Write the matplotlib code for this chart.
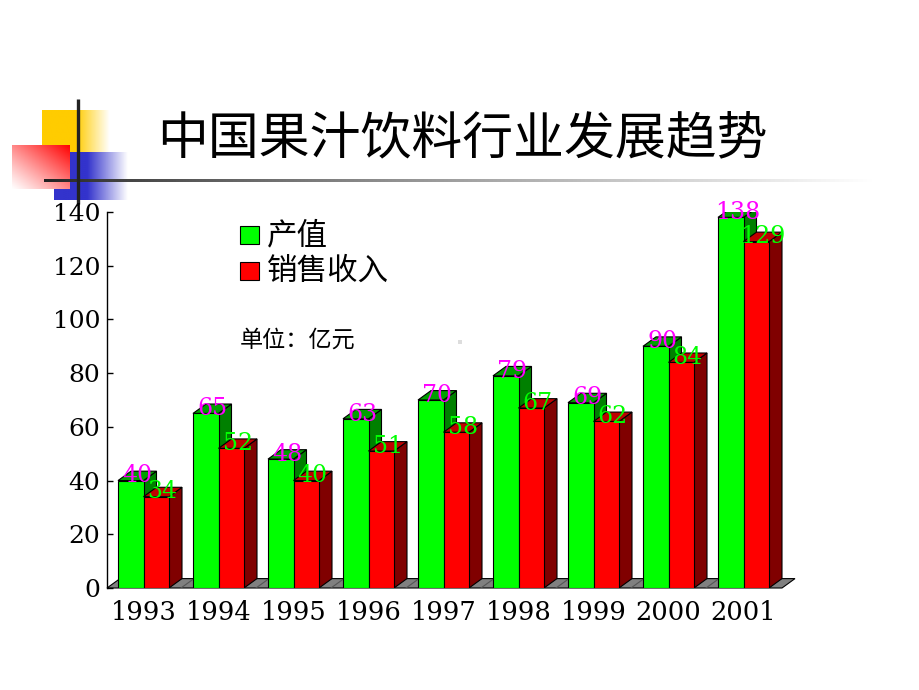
import numpy as np
import matplotlib.pyplot as plt
from matplotlib.patches import Polygon, Rectangle

# chart data
years = ["1993", "1994", "1995", "1996", "1997", "1998", "1999", "2000", "2001"]
output_value = [40, 65, 48, 63, 70, 79, 69, 90, 138]    # 产值
sales_income = [34, 52, 40, 51, 58, 67, 62, 84, 129]    # 销售收入
series_names = ["产值", "销售收入"]
y_ticks = [0, 20, 40, 60, 80, 100, 120, 140]
title_text = "中国果汁饮料行业发展趋势"
unit_note = "单位：亿元"

CJK = ["Noto Sans CJK SC", "DejaVu Sans"]
plt.rcParams["font.family"] = ["DejaVu Serif"]

W, H = 920, 690
fig = plt.figure(figsize=(W / 100, H / 100), dpi=100)

# --------------------- decoration (pixel coords) ---------------------
deco = fig.add_axes([0, 0, 1, 1], zorder=0)
deco.set_xlim(0, W)
deco.set_ylim(H, 0)
deco.axis("off")


def gradient_box(x0, x1, y0, y1, rgb, weight):
    u = np.linspace(0, 1, 120)[None, :]
    v = np.linspace(0, 1, 120)[:, None]
    w = np.clip(weight(u, v), 0, 1)[..., None]
    img = np.ones((120, 120, 3)) * (1 - w) + np.array(rgb)[None, None, :] * w
    deco.imshow(img, extent=(x0, x1, y1, y0), aspect="auto", interpolation="bilinear")


gradient_box(42, 110, 110, 153, (1.0, 0.8, 0.0),
             lambda u, v: np.where(u < 0.5, 1.0, 1 - (u - 0.5) / 0.5) + 0 * v)
gradient_box(54, 128, 152, 200, (0.2, 0.2, 0.8),
             lambda u, v: np.where(u < 0.45, 1.0, 1 - (u - 0.45) / 0.55) + 0 * v)
gradient_box(12, 70, 145, 189, (1.0, 0.0, 0.0),
             lambda u, v: ((u + (1 - v)) / 2) ** 1.1)

# fading rule under the title
u = np.linspace(0, 1, 400)[None, :]
g = (0.13 + 0.87 * u ** 0.8)
rule = np.repeat(g[..., None], 3, axis=2)
deco.imshow(rule, extent=(44, 873, 182.5, 179.5), aspect="auto", interpolation="bilinear")
deco.plot([78, 78], [99, 204], color="#222222", lw=2.4, solid_capstyle="butt")
deco.add_patch(Rectangle((458, 340), 4, 4, fc="#dddddd", ec="none"))

deco.set_xlim(0, W)
deco.set_ylim(H, 0)

fig.text(462 / W, 1 - 140 / H, title_text, family=CJK, fontsize=36.6,
         ha="center", va="center", color="black")

# --------------------- chart ---------------------
ax_l, ax_r, ax_b, ax_t = 107, 800, 588, 212
ax = fig.add_axes([ax_l / W, 1 - ax_b / H, (ax_r - ax_l) / W, (ax_b - ax_t) / H], zorder=1)
ax.patch.set_alpha(0)

px_per_cat = 75.0
x0_lim = (ax_l - 143.5) / px_per_cat
ax.set_xlim(x0_lim, x0_lim + (ax_r - ax_l) / px_per_cat)
ax.set_ylim(0, 140)
px_per_val = (ax_b - ax_t) / 140.0

dx = 13 / px_per_cat      # depth offset, in data units
dy = 9.4 / px_per_val
bw = 25.5 / px_per_cat    # width of one bar

x = np.arange(len(years))

# floor
floor_r = (782 - 143.5) / px_per_cat
ax.add_patch(Polygon([(x0_lim, 0), (floor_r, 0), (floor_r + dx, dy), (x0_lim + dx, dy)],
                     closed=True, fc="#808080", ec="black", lw=0.8, zorder=1, clip_on=False))
for b in x[:-1] + 0.5:
    ax.plot([b, b + dx], [0, dy], color="#555555", lw=0.8, zorder=1.1)

faces = [
    (output_value, -bw, "#00FF00", "#00A000", "#008000", "#FF00FF"),
    (sales_income, 0.0, "#FF0000", "#C00000", "#800000", "#00FF00"),
]
for k, (vals, off, front, top, side, lab_col) in enumerate(faces):
    z = 2 + 2 * k
    for xi, v in zip(x, vals):
        left = xi + off
        right = left + bw
        ax.add_patch(Polygon([(right, 0), (right + dx, dy), (right + dx, v + dy), (right, v)],
                             closed=True, fc=side, ec="black", lw=0.8, zorder=z))
        ax.add_patch(Polygon([(left, v), (left + dx, v + dy), (right + dx, v + dy), (right, v)],
                             closed=True, fc=top, ec="black", lw=0.8, zorder=z))
    ax.bar(x + off + bw / 2, vals, width=bw, color=front, edgecolor="black", lw=0.8,
           zorder=z + 1, label=series_names[k])
    for xi, v in zip(x, vals):
        ax.text(xi + off + bw / 2 + dx / 2, v + dy / 2, str(v), color=lab_col,
                fontsize=17, ha="center", va="center", zorder=10)

for s in ["top", "right", "bottom"]:
    ax.spines[s].set_visible(False)
ax.spines["left"].set_bounds(0, 140)
ax.spines["left"].set_linewidth(1)
ax.set_yticks(y_ticks)
ax.tick_params(axis="y", direction="in", length=4.5, width=1, pad=5, labelsize=18)
ax.set_xticks(x, years)
ax.tick_params(axis="x", length=0, pad=9, labelsize=18.5)

# legend and unit note
deco2 = fig.add_axes([0, 0, 1, 1], zorder=2)
deco2.set_xlim(0, W)
deco2.set_ylim(H, 0)
deco2.axis("off")
for (yc, col), name in zip([(234.5, "#00FF00"), (270.5, "#FF0000")], series_names):
    deco2.add_patch(Rectangle((240, yc - 9), 19, 18, fc=col, ec="black", lw=0.8))
    deco2.text(267, yc + 1, name, family=CJK, fontsize=22, ha="left", va="center")
deco2.text(240, 340, unit_note, family=CJK, fontsize=16.7, ha="left", va="center")

fig.savefig("out.png", dpi=100)
